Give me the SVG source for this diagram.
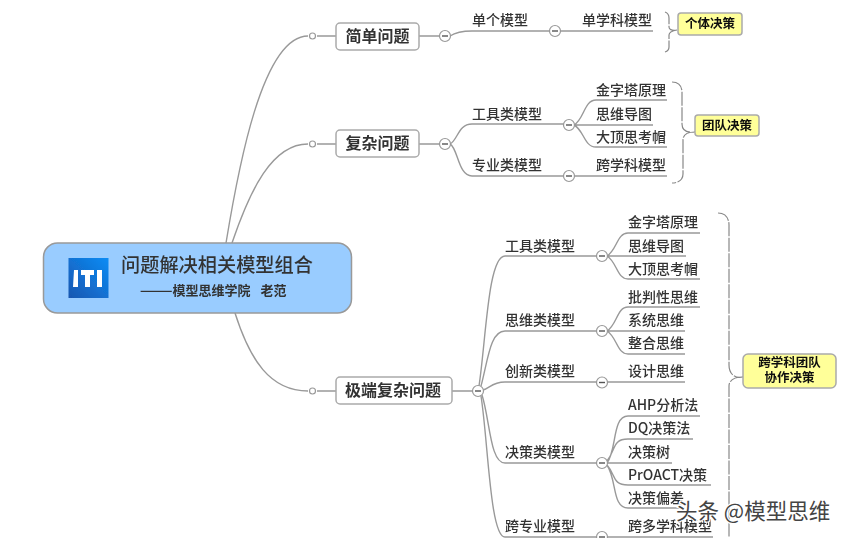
<svg xmlns="http://www.w3.org/2000/svg" width="846" height="538" viewBox="0 0 846 538">
<defs>
<linearGradient id="logo" x1="0" y1="1" x2="1" y2="0"><stop offset="0" stop-color="#1a56b0"/><stop offset="1" stop-color="#0a8cf5"/></linearGradient>
<filter id="soft" x="-2%" y="-2%" width="104%" height="104%"><feGaussianBlur stdDeviation="0.35"/></filter>
</defs>
<style>
text{font-family:"Noto Sans CJK SC","Liberation Sans",sans-serif;fill:#333}
.l{font-size:14px;font-weight:500}
.m{font-size:16px;font-weight:700;text-anchor:middle}
.c{font-size:12.500px;font-weight:700;text-anchor:middle;fill:#111}
.w{fill:none;stroke:#999;stroke-width:1.4}
.b{fill:none;stroke:#888;stroke-width:1.2;stroke-dasharray:14 1.5}
.n{fill:#fff;stroke:#aaa;stroke-width:1.5}
.y{fill:#ffff99;stroke:#aaa;stroke-width:1.5}
.o{fill:#fff;stroke:#999;stroke-width:1.2}
.d{stroke:#555;stroke-width:1.4}
</style>
<rect width="846" height="538" fill="#fff"/>
<g filter="url(#soft)">
<g id="connectors">
<path class="w" d="M226 243C238 170 262 36 308 36M232 243C250 190 272 144 308 144M235 313C250 360 270 391 308 391"/>
<path class="w" d="M317 36H336M317 144H336M317 391H336M419 36H440M419 144H440M452 391H473"/>
<path class="w" d="M450 36C456 32 462 31 472 31H550M560 31H653"/>
<path class="w" d="M450 144C458 140 458 124 472 124H564M574 125C584 120 584 100 596 100H667M574 125H653M574 125C584 130 584 147 596 147H667"/>
<path class="w" d="M450 144C458 148 458 176 472 176H564M574 176H667"/>
<path class="w" d="M479 386C486 340 488 256 505 256H597M607 256C617 250 617 233 628 233H700M607 256H686M607 256C617 262 617 279 628 279H700"/>
<path class="w" d="M481 386C488 360 490 331 505 331H597M607 331C617 325 617 307 628 307H700M607 331H685M607 331C617 337 617 354 628 354H685"/>
<path class="w" d="M483 390C490 388 492 382 505 382H597M607 382H685"/>
<path class="w" d="M482 395C490 420 490 463 505 463H597M607 463C617 450 612 416 628 416H700M607 461C616 450 612 439 628 439H693M607 463H672M607 465C616 475 612 485 628 485H711M607 465C617 480 612 508 628 508H685"/>
<path class="w" d="M481 396C488 440 490 537 505 537H597M607 537H713"/>
<path class="b" d="M665 12C668 13 669 15 669 18V27C669 29 671 31 677 30M677 30C671 31 669 33 669 35V47C669 49 668 51 665 52"/>
<path class="b" d="M672 82C678 82 682 86 682 92V124C682 131 688 133 695 132M695 132C688 132 683 134 683 140V174C683 180 678 183 672 183"/>
<path class="b" d="M718 213C725 213 729 218 729 225V365C729 374 735 379 743 377M743 377C735 377 729 380 729 386V538"/>
</g>
<g id="root">
<rect x="43.5" y="243" width="308" height="70" rx="14" fill="#99ccff" stroke="#999" stroke-width="1.5"/>
<rect x="68.5" y="258" width="40" height="40" fill="url(#logo)"/>
<path fill="#fff" d="M74 270h4v17h-5zM81 270h13v5h-4v12h-5v-12h-4zM97 270h5v17h-5z"/>
<text x="217" y="272" font-size="19.2" font-weight="500" text-anchor="middle">问题解决相关模型组合</text>
<text x="140" y="295" font-size="13" font-weight="700" word-spacing="7">———模型思维学院 老范</text>
</g>
<g id="n1"><rect class="n" x="336" y="23" width="83" height="27" rx="4"/><text class="m" x="377.5" y="42">简单问题</text></g>
<g id="n2"><rect class="n" x="336" y="130" width="83" height="27" rx="4"/><text class="m" x="377.5" y="149">复杂问题</text></g>
<g id="n3"><rect class="n" x="336" y="377" width="116" height="27" rx="4"/><text class="m" x="393" y="396">极端复杂问题</text></g>
<g id="markers">
<circle class="o" cx="312.5" cy="36" r="3"/><circle class="o" cx="312.5" cy="144" r="3"/><circle class="o" cx="312.5" cy="391" r="3"/>
<circle class="o" cx="445" cy="36" r="5.5"/><path class="d" d="M442 36h6"/>
<circle class="o" cx="445" cy="144" r="5.5"/><path class="d" d="M442 144h6"/>
<circle class="o" cx="478" cy="391" r="5.5"/><path class="d" d="M475 391h6"/>
<circle class="o" cx="555" cy="31" r="5.5"/><path class="d" d="M552 31h6"/>
<circle class="o" cx="569" cy="125" r="5.5"/><path class="d" d="M566 125h6"/>
<circle class="o" cx="569" cy="176" r="5.5"/><path class="d" d="M566 176h6"/>
<circle class="o" cx="602" cy="256" r="5.5"/><path class="d" d="M599 256h6"/>
<circle class="o" cx="602" cy="331" r="5.5"/><path class="d" d="M599 331h6"/>
<circle class="o" cx="602" cy="382.5" r="5.5"/><path class="d" d="M599 382.5h6"/>
<circle class="o" cx="602" cy="463" r="5.5"/><path class="d" d="M599 463h6"/>
<circle class="o" cx="602" cy="537" r="5.5"/><path class="d" d="M599 537h6"/>
</g>
<g id="labels">
<text class="l" x="472" y="25">单个模型</text><text class="l" x="582" y="25">单学科模型</text>
<text class="l" x="472" y="119">工具类模型</text><text class="l" x="472" y="170">专业类模型</text>
<text class="l" x="596" y="95">金字塔原理</text><text class="l" x="596" y="119">思维导图</text><text class="l" x="596" y="142">大顶思考帽</text><text class="l" x="596" y="170">跨学科模型</text>
<text class="l" x="505" y="251">工具类模型</text><text class="l" x="505" y="325">思维类模型</text><text class="l" x="505" y="376">创新类模型</text><text class="l" x="505" y="457">决策类模型</text><text class="l" x="505" y="531">跨专业模型</text>
<text class="l" x="628" y="227">金字塔原理</text><text class="l" x="628" y="251">思维导图</text><text class="l" x="628" y="274">大顶思考帽</text>
<text class="l" x="628" y="302">批判性思维</text><text class="l" x="628" y="325">系统思维</text><text class="l" x="628" y="348">整合思维</text>
<text class="l" x="628" y="376">设计思维</text>
<text class="l" x="628" y="410">AHP分析法</text><text class="l" x="628" y="433">DQ决策法</text><text class="l" x="628" y="457">决策树</text><text class="l" x="628" y="480">PrOACT决策</text><text class="l" x="628" y="503">决策偏差</text><text class="l" x="628" y="531">跨多学科模型</text>
</g>
<g id="c1"><rect class="y" x="678" y="13" width="64" height="22" rx="3"/><text class="c" x="710" y="28">个体决策</text></g>
<g id="c2"><rect class="y" x="695" y="115" width="64" height="21" rx="3"/><text class="c" x="727" y="130">团队决策</text></g>
<g id="c3"><rect class="y" x="743" y="354" width="93" height="34" rx="5"/><text class="c" x="789.5" y="367"><tspan x="789.5">跨学科团队</tspan><tspan x="789.5" dy="15">协作决策</tspan></text></g>
</g>
<text x="676" y="519" font-size="21.5" stroke="#fff" stroke-width="2.5" paint-order="stroke" style="fill:#444">头条 @模型思维</text>
</svg>
